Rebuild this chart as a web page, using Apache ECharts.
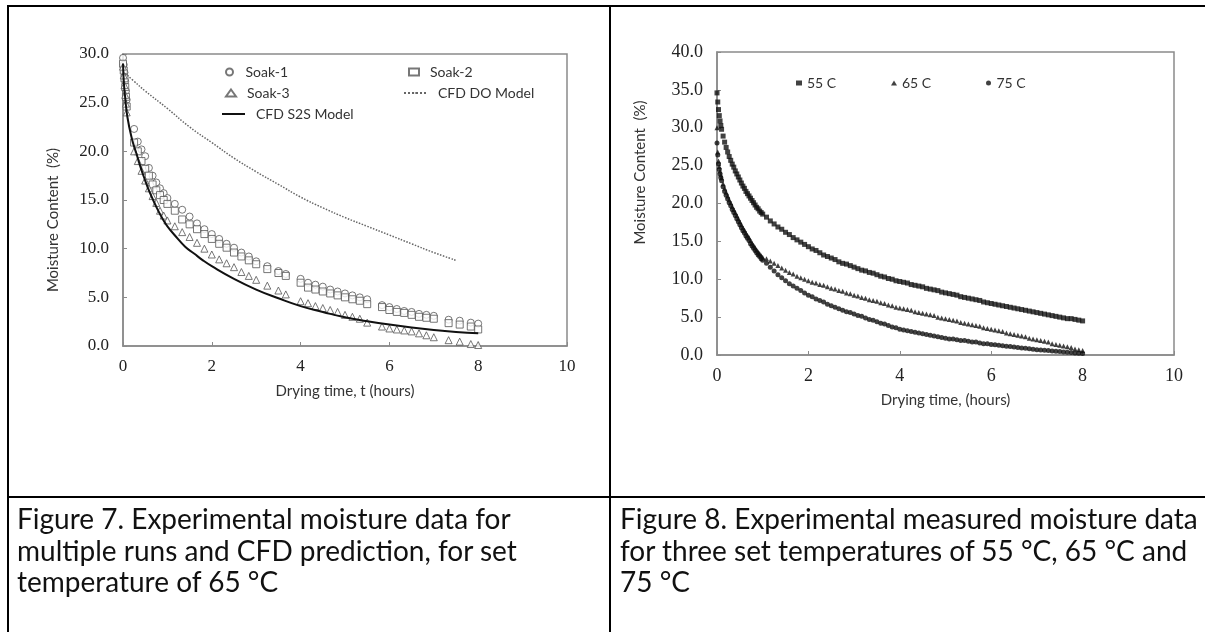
<!DOCTYPE html>
<html><head><meta charset="utf-8">
<script src="https://cdn.jsdelivr.net/npm/echarts@6/dist/echarts.min.js"></script>
<style>
html,body{margin:0;padding:0;background:#fff;}
#chart{position:absolute;left:0;top:0;width:1205px;height:632px;}
.b{position:absolute;background:#000;}
.cap{position:absolute;font-family:Lato,"Open Sans",sans-serif;font-size:28px;line-height:31.5px;color:#111;white-space:nowrap;}
</style></head>
<body>
<div id="chart"></div>
<div class="b" style="left:7px;top:5px;width:1198px;height:2px"></div>
<div class="b" style="left:7px;top:5px;width:2px;height:627px"></div>
<div class="b" style="left:609px;top:5px;width:2px;height:627px"></div>
<div class="b" style="left:7px;top:496px;width:1198px;height:2px"></div>
<div class="cap" style="left:17px;top:503px">Figure 7. Experimental moisture data for<br>multiple runs and CFD prediction, for set<br>temperature of 65 °C</div>
<div class="cap" style="left:620px;top:503px">Figure 8. Experimental measured moisture data<br>for three set temperatures of 55 °C, 65 °C and<br>75 °C</div>
<script>
// ---------- Figure 7 data ----------
const X_TICKS = [0, 2, 4, 6, 8, 10];
const SOAK_MIN = [0,1,2,3,4,5,15,20,25,30,35,40,45,50,55,60,70,80,90,100,110,120,130,140,150,160,170,180,195,210,220,240,250,260,270,280,290,300,310,320,330,350,360,370,380,390,400,410,420,440,455,470,480];
const SOAK1 = [29.6,28.9,28.1,27.2,26.2,25.3,22.3,21.0,20.2,19.5,18.3,17.5,16.8,16.2,15.7,15.2,14.6,14.0,13.3,12.6,12.0,11.5,11.0,10.5,10.1,9.6,9.2,8.7,8.2,7.7,7.4,6.9,6.5,6.3,6.1,5.8,5.6,5.4,5.2,5.0,4.8,4.2,4.0,3.8,3.6,3.5,3.3,3.2,3.1,2.7,2.6,2.4,2.3];
const SOAK2 = [29.0,28.3,27.5,26.6,25.6,24.6,20.9,20.0,19.0,18.2,17.5,16.6,16.0,15.5,15.0,14.6,13.9,13.0,12.5,12.0,11.5,11.0,10.5,10.1,9.6,9.2,8.8,8.4,7.9,7.5,7.2,6.5,6.0,5.8,5.6,5.4,5.2,5.0,4.8,4.65,4.3,4.0,3.7,3.5,3.4,3.2,3.0,2.9,2.8,2.35,2.2,2.0,1.7];
const SOAK3 = [28.7,27.8,26.8,25.8,24.9,24.0,20.0,19.0,18.0,17.0,16.2,15.4,14.7,13.9,13.4,12.9,12.3,11.7,11.2,10.6,10.0,9.4,8.9,8.5,8.1,7.6,7.2,6.8,6.2,5.7,5.3,4.6,4.4,4.1,3.9,3.7,3.5,3.2,3.0,2.8,2.4,2.0,1.8,1.7,1.6,1.5,1.3,1.1,0.9,0.6,0.45,0.2,0.1];
const S2S_T = [0,0.02,0.05,0.1,0.2,0.3,0.4,0.5,0.6,0.75,0.9,1.0,1.2,1.4,1.6,1.8,2.0,2.5,3.0,3.5,4.0,4.5,5.0,5.5,6.0,6.5,7.0,7.5,8.0];
const S2S_V = [29.0,27.0,25.5,23.5,21.3,19.8,18.3,17.0,15.8,14.3,13.0,12.3,11.2,10.2,9.5,8.8,8.2,6.9,5.8,4.9,4.1,3.5,2.95,2.55,2.2,1.9,1.65,1.45,1.3];
const DO_T = [0,0.25,0.5,1,1.5,2,2.5,3,3.5,4,4.5,5,5.5,6,6.5,7,7.5];
const DO_V = [28.2,27.2,26.2,24.4,22.5,20.9,19.3,17.9,16.6,15.3,14.2,13.2,12.3,11.4,10.5,9.6,8.8];

// ---------- Figure 8 data ----------
const R_MIN_EARLY = [0,1,2,3,4,5,6,8,10,12,14,16,18,20,22,24,26,28,30,32,34,36,38,40,42,44,46,48,50,52,54,56,58,60];
const R_MIN_LATE = [65,70,75,80,85,90,95,100,105,110,115,120,125,130,135,140,145,150,155,160,165,170,175,180,185,190,195,200,205,210,215,220,225,230,235,240,245,250,255,260,265,270,275,280,285,290,295,300,305,310,315,320,325,330,335,340,345,350,355,360,365,370,375,380,385,390,395,400,405,410,415,420,425,430,435,440,445,450,455,460,465,470,475,480];
const T55_EARLY = [34.6,33.4,32.4,31.6,30.9,30.3,29.8,28.9,28.1,27.4,26.8,26.2,25.7,25.2,24.8,24.3,23.9,23.5,23.1,22.7,22.3,22.0,21.6,21.3,21.0,20.7,20.4,20.1,19.8,19.5,19.3,19.0,18.8,18.6];
const T55_LATE = [18.2,17.7,17.3,16.9,16.6,16.2,15.9,15.5,15.2,14.9,14.6,14.3,
 14.0,13.8,13.5,13.2,13.0,12.8,12.6,12.3,12.1,12.0,11.8,11.6,
 11.4,11.2,11.1,10.9,10.8,10.6,10.4,10.3,10.1,10.0,9.8,9.7,
 9.6,9.5,9.3,9.2,9.1,9.0,8.8,8.7,8.6,8.5,8.3,8.2,
 8.1,8.0,7.9,7.7,7.6,7.5,7.4,7.3,7.2,7.0,6.9,6.8,
 6.7,6.6,6.5,6.4,6.3,6.2,6.1,6.0,5.9,5.8,5.7,5.6,
 5.5,5.4,5.3,5.2,5.1,5.0,4.9,4.8,4.8,4.7,4.6,4.5];
const T65_EARLY = [30.0,26.8,25.6,24.9,24.3,23.8,23.4,22.6,22.0,21.5,21.0,20.5,20.1,19.6,19.2,18.8,18.4,18.0,17.6,17.2,16.8,16.5,16.1,15.8,15.5,15.1,14.8,14.5,14.2,13.9,13.6,13.4,13.1,12.9];
const T65_LATE = [12.7,12.4,12.1,11.8,11.5,11.2,10.9,10.7,10.4,10.2,10.0,9.8,
 9.6,9.5,9.3,9.2,9.0,8.8,8.7,8.5,8.4,8.2,8.1,7.9,
 7.8,7.6,7.5,7.3,7.2,7.1,6.9,6.8,6.6,6.5,6.3,6.2,
 6.1,6.0,5.9,5.7,5.6,5.5,5.4,5.3,5.2,5.0,4.9,4.8,
 4.7,4.6,4.5,4.3,4.2,4.1,4.0,3.9,3.8,3.6,3.5,3.4,
 3.3,3.2,3.1,2.9,2.8,2.7,2.6,2.5,2.4,2.2,2.1,2.0,
 1.9,1.8,1.7,1.5,1.4,1.3,1.2,1.1,1.0,0.8,0.7,0.6];
const T75_EARLY = [28.0,26.4,25.2,24.5,23.9,23.4,23.0,22.2,21.6,21.1,20.6,20.1,19.7,19.2,18.8,18.4,18.0,17.6,17.2,16.8,16.4,16.1,15.7,15.4,15.1,14.7,14.4,14.1,13.8,13.5,13.2,13.0,12.7,12.5];
const T75_LATE = [12.1,11.6,11.1,10.6,10.2,9.8,9.4,9.1,8.8,8.5,8.2,7.9,
 7.7,7.4,7.2,7.0,6.7,6.5,6.3,6.1,5.9,5.7,5.6,5.4,
 5.2,5.1,4.9,4.7,4.6,4.4,4.2,4.1,3.9,3.7,3.6,3.4,
 3.3,3.2,3.1,3.0,2.9,2.8,2.7,2.6,2.5,2.4,2.3,2.2,
 2.1,2.1,2.0,1.9,1.9,1.8,1.7,1.7,1.6,1.5,1.5,1.4,
 1.34,1.28,1.23,1.17,1.11,1.05,0.99,0.93,0.88,0.82,0.76,0.70,
 0.66,0.62,0.58,0.53,0.49,0.45,0.41,0.37,0.33,0.28,0.24,0.20];

// ---------- build ----------
const pairsMin = (mins, vals) => mins.map((m, i) => [m / 60, vals[i]]);
const pairsH = (hs, vals) => hs.map((h, i) => [h, vals[i]]);
const R_MIN = R_MIN_EARLY.concat(R_MIN_LATE);

const SANS = 'Lato, "Open Sans", sans-serif';
const SERIF = '"Liberation Serif", "DejaVu Serif", serif';
const AXIS_C = '#8a8a8a';

function xAxis(grid, name, fs) {
  return {
    type: 'value', gridIndex: grid, min: 0, max: 10, interval: 2,
    name: name, nameLocation: 'middle', nameGap: 38,
    nameTextStyle: {fontFamily: SANS, fontSize: 15, color: '#333'},
    axisLine: {show: true, lineStyle: {color: AXIS_C, width: 1.5}},
    axisTick: {show: true, inside: true, length: 4, lineStyle: {color: AXIS_C}},
    axisLabel: {fontFamily: SERIF, fontSize: fs, color: '#222', margin: 12},
    splitLine: {show: false}
  };
}
function yAxis(grid, max, gap, pad, fs) {
  return {
    type: 'value', gridIndex: grid, min: 0, max: max, interval: 5,
    name: 'Moisture Content  (%)', nameLocation: 'middle', nameGap: gap, nameRotate: 90,
    nameTextStyle: {fontFamily: SANS, fontSize: 15, color: '#333', padding: pad},
    axisLine: {show: true, lineStyle: {color: AXIS_C, width: 1.5}},
    axisTick: {show: true, inside: true, length: 4, lineStyle: {color: AXIS_C}},
    axisLabel: {fontFamily: SERIF, fontSize: fs, color: '#222', margin: 14, formatter: v => v.toFixed(1)},
    splitLine: {show: false}
  };
}
const openMarker = {color: '#fff', borderColor: '#555', borderWidth: 1};
const legTxt = {fontFamily: SANS, fontSize: 14, color: '#333', padding: [0, 0, 0, 6]};
function leg(name, left, cy, w, h, extra) {
  return Object.assign({data: [name], left: left, top: cy - 9, itemWidth: w, itemHeight: h,
    textStyle: legTxt, selectedMode: false, padding: 0}, extra || {});
}
const legTxtR = {fontFamily: SANS, fontSize: 14, color: '#333', padding: [0, 0, 0, 0]};

const option = {
  animation: false,
  backgroundColor: 'transparent',
  grid: [
    {left: 123, top: 54, width: 444, height: 292, show: true, borderColor: AXIS_C, borderWidth: 1.5},
    {left: 717, top: 52, width: 457, height: 303, show: true, borderColor: AXIS_C, borderWidth: 1.5}
  ],
  xAxis: [xAxis(0, 'Drying time, t (hours)', 17), xAxis(1, 'Drying time, (hours)', 18)],
  yAxis: [yAxis(0, 30, 62, [0, 40, 0, 0], 17), yAxis(1, 40, 69, [0, 0, 0, 62], 18)],
  legend: [
    leg('Soak-1', 225, 74, 10, 7),
    leg('Soak-3', 225, 95, 10, 7),
    leg('CFD S2S Model', 221, 116, 23, 2),
    leg('Soak-2', 408, 74, 10, 7),
    leg('CFD DO Model', 403, 95, 23, 2),
    leg('55 C', 796, 85, 6, 5, {textStyle: legTxtR}),
    leg('65 C', 891, 85, 6, 5, {textStyle: legTxtR}),
    leg('75 C', 986, 85, 6, 5, {textStyle: legTxtR})
  ],
  series: [
    {name: 'CFD DO Model', type: 'line', xAxisIndex: 0, yAxisIndex: 0, smooth: true, symbol: 'none',
     data: pairsH(DO_T, DO_V), lineStyle: {color: '#666', width: 1.5, type: 'dotted'}, itemStyle: {color: '#666'}},
    {name: 'CFD S2S Model', type: 'line', xAxisIndex: 0, yAxisIndex: 0, smooth: true, symbol: 'none',
     data: pairsH(S2S_T, S2S_V), lineStyle: {color: '#111', width: 2}, itemStyle: {color: '#111'}},
    {name: 'Soak-1', type: 'scatter', xAxisIndex: 0, yAxisIndex: 0, symbol: 'circle', symbolSize: 7,
     data: pairsMin(SOAK_MIN, SOAK1), itemStyle: openMarker},
    {name: 'Soak-2', type: 'scatter', xAxisIndex: 0, yAxisIndex: 0, symbol: 'rect', symbolSize: 7,
     data: pairsMin(SOAK_MIN, SOAK2), itemStyle: openMarker},
    {name: 'Soak-3', type: 'scatter', xAxisIndex: 0, yAxisIndex: 0, symbol: 'triangle', symbolSize: 7,
     data: pairsMin(SOAK_MIN, SOAK3), itemStyle: openMarker},
    {name: '55 C', type: 'scatter', xAxisIndex: 1, yAxisIndex: 1, symbol: 'rect', symbolSize: 5,
     data: pairsMin(R_MIN, T55_EARLY.concat(T55_LATE)), itemStyle: {color: '#111'}},
    {name: '65 C', type: 'scatter', xAxisIndex: 1, yAxisIndex: 1, symbol: 'triangle', symbolSize: 5,
     data: pairsMin(R_MIN, T65_EARLY.concat(T65_LATE)), itemStyle: {color: '#111'}},
    {name: '75 C', type: 'scatter', xAxisIndex: 1, yAxisIndex: 1, symbol: 'circle', symbolSize: 5,
     data: pairsMin(R_MIN, T75_EARLY.concat(T75_LATE)), itemStyle: {color: '#111'}}
  ]
};
const chart = echarts.init(document.getElementById('chart'), null, {renderer: 'canvas'});
chart.setOption(option);
</script>
</body></html>
